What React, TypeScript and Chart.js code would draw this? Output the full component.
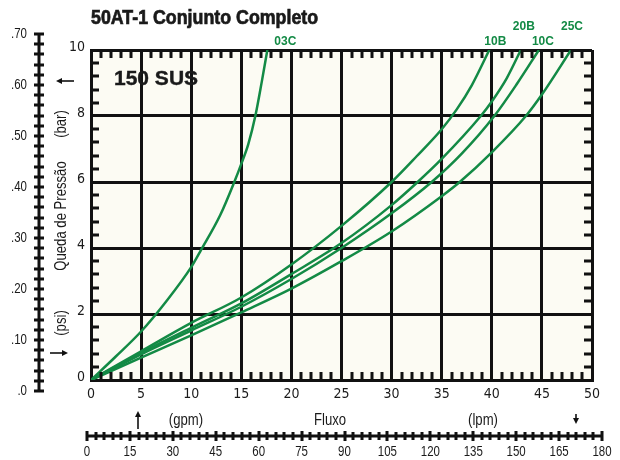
import React, { useEffect, useRef } from "react";
import { Chart, registerables } from "chart.js";

Chart.register(...registerables);

// ---------- text ----------
const TITLE = "50AT-1 Conjunto Completo";
const VISCOSITY = "150 SUS";
const Y_TITLE = "Queda de Pressão";
const Y_UNIT_BAR = "(bar)";
const Y_UNIT_PSI = "(psi)";
const X_TITLE = "Fluxo";
const X_UNIT_GPM = "(gpm)";
const X_UNIT_LPM = "(lpm)";

// ---------- secondary rulers ----------
const psiTicks = [0, 0.1, 0.2, 0.3, 0.4, 0.5, 0.6, 0.7];
const psiTickLabels = [".0", ".10", ".20", ".30", ".40", ".50", ".60", ".70"];
const lpmTicks = [0, 15, 30, 45, 60, 75, 90, 105, 120, 135, 150, 165, 180];
const lpmTickLabels = ["0", "15", "30", "45", "60", "75", "90", "105", "120", "135", "150", "165", "180"];

// ---------- series (flow gpm, pressure drop bar) ----------
const flow03C = [0, 2.5, 5, 7.5, 10, 11, 12.9, 14.3, 15, 15.7, 16.4, 17.05, 17.6];
const drop03C = [0, 0.72, 1.47, 2.38, 3.42, 3.95, 5, 6, 6.55, 7.15, 8, 9.05, 10];

const flow10B = [0, 5, 10, 15, 20, 25, 30, 32.5, 35, 36.5, 38, 39.75];
const drop10B = [0, 0.87, 1.73, 2.5, 3.5, 4.67, 6.0, 6.78, 7.6, 8.2, 8.93, 10];

const flow20B = [0, 5, 10, 15, 20, 25, 30, 32.6, 35, 38.9, 40, 41.5, 42.9];
const drop20B = [0, 0.82, 1.58, 2.32, 3.21, 4.15, 5.3, 6, 6.7, 8, 8.44, 9.15, 10];

const flow10C = [0, 5, 10, 15, 20, 25, 30, 34, 37, 40.25, 42.5, 44.7];
const drop10C = [0, 0.78, 1.5, 2.22, 3.06, 4.0, 5.05, 6, 6.86, 8, 8.97, 10];

const flow25C = [0, 5, 10, 15, 20, 25, 30, 35, 36.8, 40, 43.4, 45, 47.9];
const drop25C = [0, 0.68, 1.35, 2.05, 2.77, 3.6, 4.5, 5.57, 6, 6.9, 8, 8.65, 10];

const seriesNames = ["03C", "10B", "20B", "10C", "25C"];
const seriesFlows = [flow03C, flow10B, flow20B, flow10C, flow25C];
const seriesDrops = [drop03C, drop10B, drop20B, drop10C, drop25C];

// label placement (style): dx from curve end, text centre y
const labelStyle = [
  { dx: 18, y: 42 },
  { dx: 6, y: 42 },
  { dx: 3, y: 27 },
  { dx: 4, y: 42 },
  { dx: 1, y: 27 },
];

// ---------- styles ----------
const GREEN = "#138a45";
const INK = "#111111";
const TEXT = "#1a1a1a";
const PLOT_BG = "#fcfbf3";
const CONDENSED = "'DejaVu Sans Condensed','Liberation Sans Narrow',sans-serif";
const SANS = "'Liberation Sans',Arial,Helvetica,sans-serif";

function text(
  ctx: CanvasRenderingContext2D,
  t: string,
  x: number,
  y: number,
  font: string,
  sx: number,
  align: CanvasTextAlign = "center",
  rot = 0,
  stroke = 0
) {
  ctx.save();
  ctx.translate(x, y);
  if (rot) ctx.rotate(rot);
  ctx.scale(sx, 1);
  ctx.font = font;
  ctx.textAlign = align;
  ctx.textBaseline = "middle";
  ctx.fillText(t, 0, 0);
  if (stroke > 0) {
    ctx.lineWidth = stroke;
    ctx.strokeStyle = ctx.fillStyle as string;
    ctx.strokeText(t, 0, 0);
  }
  ctx.restore();
}

function arrow(ctx: CanvasRenderingContext2D, x1: number, y1: number, x2: number, y2: number) {
  const ang = Math.atan2(y2 - y1, x2 - x1);
  const head = 6;
  const hx = x2 - Math.cos(ang) * head;
  const hy = y2 - Math.sin(ang) * head;
  ctx.beginPath();
  ctx.moveTo(x1, y1);
  ctx.lineTo(hx, hy);
  ctx.lineWidth = 1.6;
  ctx.strokeStyle = INK;
  ctx.stroke();
  ctx.beginPath();
  ctx.moveTo(x2, y2);
  ctx.lineTo(hx + Math.cos(ang + Math.PI / 2) * 3, hy + Math.sin(ang + Math.PI / 2) * 3);
  ctx.lineTo(hx + Math.cos(ang - Math.PI / 2) * 3, hy + Math.sin(ang - Math.PI / 2) * 3);
  ctx.closePath();
  ctx.fillStyle = INK;
  ctx.fill();
}

const decor = {
  id: "decor",
  beforeDraw(chart: any) {
    const { ctx, chartArea: a } = chart;
    ctx.save();
    ctx.fillStyle = "#ffffff";
    ctx.fillRect(0, 0, chart.width, chart.height);
    ctx.fillStyle = PLOT_BG;
    ctx.fillRect(a.left, a.top, a.right - a.left, a.bottom - a.top);
    ctx.restore();
  },
  afterDraw(chart: any) {
    const { ctx, chartArea: a, scales } = chart;
    const xs = scales.x;
    const ys = scales.y;
    ctx.save();

    // inner minor ticks
    ctx.fillStyle = INK;
    for (let v = 1; v < 50; v++) {
      if (v % 5 === 0) continue;
      const px = Math.round(xs.getPixelForValue(v));
      ctx.fillRect(px - 1.5, a.bottom - 8, 3, 8);
      ctx.fillRect(px - 1.5, a.top, 3, 8);
    }
    for (let k = 1; k < 25; k++) {
      if (k % 5 === 0) continue;
      const py = Math.round(ys.getPixelForValue(k * 0.4));
      ctx.fillRect(a.left, py - 1.5, 8, 3);
      ctx.fillRect(a.right - 8, py - 1.5, 8, 3);
    }

    // title and viscosity
    ctx.fillStyle = TEXT;
    text(ctx, TITLE, 91, 18, `bold 20px ${SANS}`, 0.89, "left", 0, 0.7);
    text(ctx, VISCOSITY, 114, 79, `bold 21px ${SANS}`, 1, "left", 0, 0.4);

    // curve labels
    ctx.fillStyle = GREEN;
    seriesNames.forEach((name, i) => {
      const f = seriesFlows[i];
      const px = xs.getPixelForValue(f[f.length - 1]) + labelStyle[i].dx;
      text(ctx, name, px, labelStyle[i].y, `bold 12px ${SANS}`, 1, "center");
    });

    // psi ruler
    const psiX = 39;
    const psiY0 = 391;
    const psiY1 = 34;
    const psiPix = (v: number) => psiY0 - (v / 0.7) * (psiY0 - psiY1);
    ctx.fillStyle = INK;
    ctx.fillRect(psiX - 1.5, psiY1, 3, psiY0 - psiY1 + 1);
    for (let k = 0; k <= 35; k++) {
      const py = Math.round(psiPix(k * 0.02));
      ctx.fillRect(psiX - 5, py - 1.5, 10, 3);
    }
    ctx.fillStyle = TEXT;
    psiTicks.forEach((v, i) => {
      text(ctx, psiTickLabels[i], 27, psiPix(v), `14px ${SANS}`, 0.82, "right");
    });

    // lpm ruler
    const lpmY = 436;
    const lpmX0 = 87;
    const lpmX1 = 602;
    const lpmPix = (v: number) => lpmX0 + (v / 180) * (lpmX1 - lpmX0);
    ctx.fillStyle = INK;
    ctx.fillRect(lpmX0, lpmY - 1.5, lpmX1 - lpmX0, 3);
    for (let k = 0; k <= 60; k++) {
      const px = Math.round(lpmPix(k * 3));
      const major = k % 5 === 0;
      ctx.fillRect(px - 1.5, lpmY - (major ? 5 : 4), 3, major ? 10 : 8);
    }
    ctx.fillStyle = TEXT;
    lpmTicks.forEach((v, i) => {
      text(ctx, lpmTickLabels[i], lpmPix(v), 452, `14px ${SANS}`, 0.82, "center");
    });

    // axis titles
    const axFont = `16px ${SANS}`;
    text(ctx, X_UNIT_GPM, 186, 421, axFont, 0.82);
    text(ctx, X_TITLE, 330, 421, axFont, 0.82);
    text(ctx, X_UNIT_LPM, 483, 421, axFont, 0.82);
    text(ctx, Y_UNIT_BAR, 62, 124, axFont, 0.82, "center", -Math.PI / 2);
    text(ctx, Y_TITLE, 62, 216, axFont, 0.82, "center", -Math.PI / 2);
    text(ctx, Y_UNIT_PSI, 62, 323, axFont, 0.82, "center", -Math.PI / 2);

    // arrows
    arrow(ctx, 74, 81, 56, 81);
    arrow(ctx, 50, 353, 68, 353);
    arrow(ctx, 138, 429, 138, 411);
    arrow(ctx, 576, 414, 576, 424);

    ctx.restore();
  },
};

export default function App() {
  const ref = useRef<HTMLCanvasElement | null>(null);

  useEffect(() => {
    const canvas = ref.current;
    if (!canvas) return;
    const chart = new Chart(canvas, {
      type: "line",
      data: {
        datasets: seriesNames.map((name, i) => ({
          label: name,
          data: seriesFlows[i].map((x, j) => ({ x, y: seriesDrops[i][j] })),
          borderColor: GREEN,
          backgroundColor: GREEN,
          borderWidth: 2.5,
          pointRadius: 0,
          fill: false,
          cubicInterpolationMode: "monotone" as const,
        })),
      },
      options: {
        animation: false,
        responsive: false,
        devicePixelRatio: 1,
        events: [],
        layout: { padding: { left: 0, top: 50, right: 28, bottom: 0 } },
        plugins: {
          legend: { display: false },
          tooltip: { enabled: false },
          title: { display: false },
        },
        scales: {
          x: {
            type: "linear",
            min: 0,
            max: 50,
            ticks: {
              stepSize: 5,
              padding: 6,
              autoSkip: false,
              maxRotation: 0,
              color: TEXT,
              font: { family: CONDENSED, size: 14 },
            },
            grid: { color: INK, lineWidth: 3, drawTicks: false },
            border: { color: INK, width: 3 },
            afterFit: (s: any) => {
              s.height = 80;
            },
          },
          y: {
            type: "linear",
            min: 0,
            max: 10,
            ticks: {
              stepSize: 2,
              padding: 6,
              labelOffset: -3,
              color: TEXT,
              font: { family: CONDENSED, size: 14 },
            },
            grid: { color: INK, lineWidth: 3, drawTicks: false },
            border: { color: INK, width: 3 },
            afterFit: (s: any) => {
              s.width = 91;
            },
          },
        },
      },
      plugins: [decor],
    });
    return () => chart.destroy();
  }, []);

  return (
    <div style={{ position: "fixed", left: 0, top: 0, width: 620, height: 460, background: "#fff" }}>
      <canvas ref={ref} width={620} height={460} style={{ display: "block", width: 620, height: 460 }} />
    </div>
  );
}
